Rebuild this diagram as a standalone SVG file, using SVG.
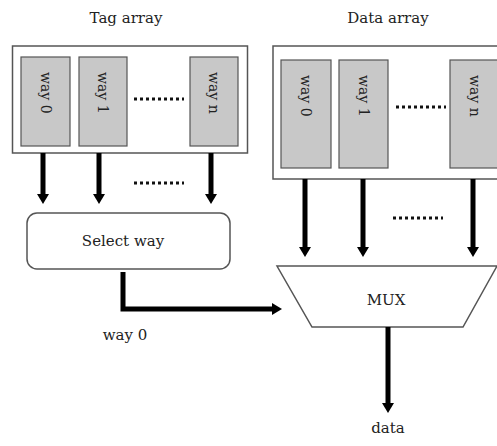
<svg xmlns="http://www.w3.org/2000/svg" width="497" height="446" viewBox="0 0 497 446">
<style>
text{font-family:"DejaVu Serif","Liberation Serif",serif;font-size:15px;fill:#222}
.lbl{text-anchor:middle}
.vt{font-size:14px;dominant-baseline:central}
.outer{fill:#fff;stroke:#555;stroke-width:1.5}
.way{fill:#c8c8c8;stroke:#555;stroke-width:1.2}
.dots{stroke:#111;stroke-width:3;stroke-dasharray:3 3}
.arr{stroke:#000;stroke-width:5;fill:none;marker-end:url(#ah)}
</style>
<defs>
<marker id="ah" viewBox="0 0 10 12" refX="0" refY="6" markerWidth="10" markerHeight="12" markerUnits="userSpaceOnUse" orient="auto">
<path d="M0,0 L10,6 L0,12 z" fill="#000"/>
</marker>
</defs>
<g id="tag-array">
<text class="lbl" x="126" y="23">Tag array</text>
<rect class="outer" x="12.5" y="46" width="235" height="107"/>
<rect class="way" x="21" y="57" width="49" height="89"/>
<text class="vt" transform="translate(45.5,72) rotate(90)">way 0</text>
<rect class="way" x="79" y="57" width="48" height="89"/>
<text class="vt" transform="translate(103,72) rotate(90)">way 1</text>
<rect class="way" x="190" y="57" width="48" height="89"/>
<text class="vt" transform="translate(214,72) rotate(90)">way n</text>
<line class="dots" x1="134" y1="99" x2="184" y2="99"/>
</g>
<g id="data-array">
<text class="lbl" x="388" y="23">Data array</text>
<rect class="outer" x="273" y="46" width="240" height="133"/>
<rect class="way" x="281" y="60" width="50" height="108"/>
<text class="vt" transform="translate(306,75) rotate(90)">way 0</text>
<rect class="way" x="339" y="60" width="49" height="108"/>
<text class="vt" transform="translate(363.5,75) rotate(90)">way 1</text>
<rect class="way" x="450" y="60" width="50" height="108"/>
<text class="vt" transform="translate(475,75) rotate(90)">way n</text>
<line class="dots" x1="396" y1="107" x2="446" y2="107"/>
</g>
<g id="select-way">
<rect class="outer" x="27" y="213" width="203" height="56" rx="10"/>
<text class="lbl" x="123" y="246">Select way</text>
</g>
<g id="mux">
<polygon class="outer" points="277,266 497,266 463,327 312,327"/>
<text class="lbl" x="386" y="305">MUX</text>
</g>
<g id="connectors">
<line class="arr" x1="43" y1="153" x2="43" y2="194"/>
<line class="arr" x1="99" y1="153" x2="99" y2="194"/>
<line class="arr" x1="211" y1="153" x2="211" y2="194"/>
<line class="dots" x1="134" y1="183" x2="184" y2="183"/>
<line class="arr" x1="305" y1="179" x2="305" y2="247"/>
<line class="arr" x1="363" y1="179" x2="363" y2="247"/>
<line class="arr" x1="473" y1="179" x2="473" y2="247"/>
<line class="dots" x1="393" y1="218" x2="443" y2="218"/>
<polyline class="arr" points="123,272 123,309 272,309"/>
<line class="arr" x1="388" y1="327" x2="388" y2="403"/>
</g>
<text class="lbl" x="125" y="340">way 0</text>
<text class="lbl" x="388" y="433">data</text>
</svg>
